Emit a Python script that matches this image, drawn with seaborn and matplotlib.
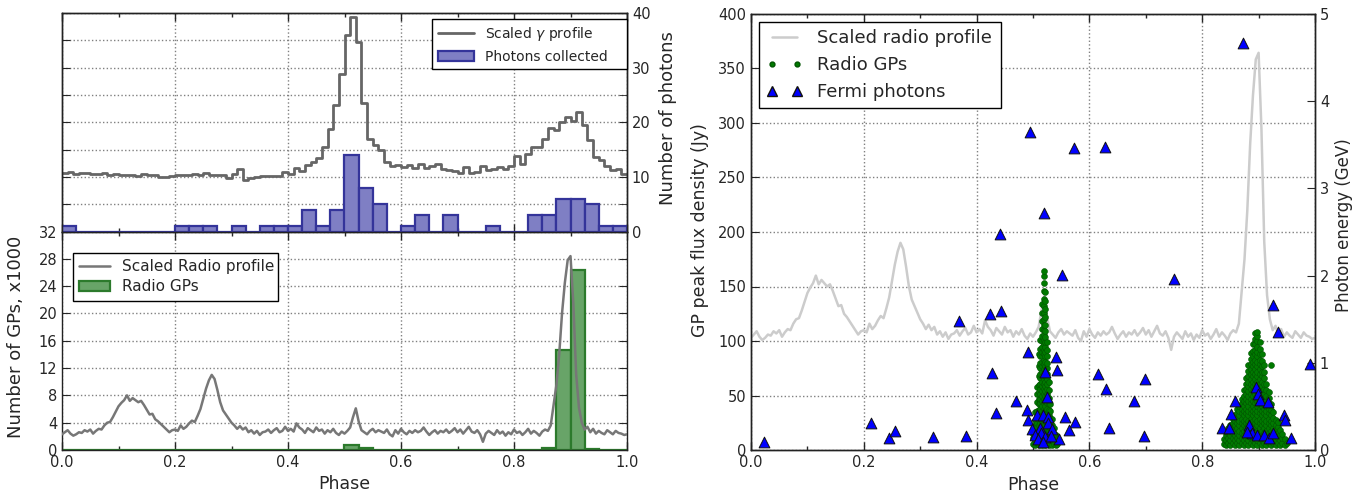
import numpy as np
import pandas as pd
import matplotlib
matplotlib.use("Agg")
import matplotlib.pyplot as plt
import seaborn as sns
from matplotlib.lines import Line2D
from matplotlib.patches import Patch
from matplotlib.ticker import MultipleLocator

# ---------------- data ----------------
# Scaled gamma-ray light curve, 100 phase bins of 0.01 (units of right axis)
gamma_profile = [
    10.8, 10.9, 10.5, 10.8, 10.7, 10.6, 10.5, 10.8, 10.4, 10.6,
    10.4, 10.3, 10.4, 10.2, 10.6, 10.3, 10.3, 10.0, 9.9, 10.2,
    10.3, 10.4, 10.3, 10.6, 10.4, 10.8, 10.4, 10.3, 10.4, 9.8,
    10.6, 11.5, 9.4, 9.8, 10.0, 10.1, 10.2, 10.2, 10.2, 10.9,
    10.6, 11.6, 11.0, 12.2, 12.7, 13.5, 15.4, 18.8, 23.1, 28.8,
    36.0, 39.3, 34.7, 23.5, 17.0, 15.8, 14.9, 12.8, 11.9, 12.1,
    11.8, 12.2, 11.7, 12.3, 11.6, 12.0, 12.4, 11.5, 11.2, 11.0,
    10.7, 11.8, 10.8, 10.9, 11.9, 11.2, 11.4, 11.8, 11.5, 12.0,
    13.9, 12.4, 14.2, 15.4, 15.4, 17.0, 18.9, 18.5, 20.0, 21.0,
    20.2, 21.9, 19.5, 16.7, 13.7, 13.0, 12.0, 11.2, 11.4, 10.6,
]

# Photons collected, 40 phase bins of 0.025
photon_counts = [1, 0, 0, 0, 0, 0, 0, 0, 1, 1,
                 1, 0, 1, 0, 1, 1, 1, 4, 1, 4,
                 14, 8, 5, 0, 1, 3, 0, 3, 0, 0,
                 1, 0, 0, 3, 3, 6, 6, 5, 1, 1]

# Radio giant pulses (x1000), 40 phase bins of 0.025
gp_counts_k = [0, 0, 0, 0, 0, 0, 0, 0, 0, 0,
               0, 0, 0, 0, 0, 0, 0, 0, 0, 0,
               0.75, 0.3, 0, 0, 0, 0, 0, 0, 0, 0,
               0, 0, 0, 0, 0.3, 14.6, 26.4, 0.12, 0, 0]

# Scaled radio profile, sampled every 0.005 in phase (0 .. 1)
radio_profile = [
    2.3, 2.6, 2.9, 2.4, 2.1, 2.3, 2.6, 2.5, 2.9, 2.7,
    3.0, 2.4, 2.8, 3.1, 3.0, 3.6, 4.0, 4.1, 4.8, 5.6,
    6.4, 6.9, 7.3, 8.0, 7.2, 7.6, 7.3, 7.0, 7.2, 6.6,
    5.9, 5.2, 5.3, 4.5, 4.2, 3.8, 3.4, 3.0, 2.6, 2.9,
    3.0, 2.8, 3.6, 3.1, 3.4, 3.9, 4.3, 4.1, 5.0, 6.0,
    7.5, 9.0, 10.2, 11.0, 10.4, 8.8, 7.0, 5.8, 5.2, 4.6,
    4.0, 3.6, 3.1, 3.5, 3.0, 3.3, 2.6, 2.9, 2.4, 2.8,
    2.2, 2.6, 2.7, 3.0, 2.5, 2.9, 3.2, 2.6, 2.8, 3.4,
    2.8, 3.1, 2.7, 3.9, 3.3, 3.0, 2.5, 3.2, 2.9, 2.6,
    3.3, 2.8, 3.0, 2.4, 2.9, 2.6, 3.1, 2.5, 2.2, 2.7,
    2.4, 2.8, 3.3, 4.8, 6.1, 4.2, 2.9, 2.6, 2.3, 2.8,
    3.1, 2.6, 2.9, 2.7, 2.5, 3.0, 2.3, 2.0, 2.9, 2.4,
    3.1, 2.6, 2.3, 2.8, 2.5, 2.9, 2.6, 2.8, 3.3, 2.7,
    2.2, 2.6, 2.9, 2.4, 2.8, 2.6, 3.0, 2.5, 2.8, 3.2,
    2.6, 3.0, 2.4, 2.9, 3.4, 2.7, 2.5, 2.9, 2.3, 1.2,
    2.4, 2.8, 2.5, 2.2, 2.9, 2.4, 2.7, 2.1, 2.6, 2.3,
    3.0, 2.5, 2.7, 2.2, 2.6, 3.1, 2.4, 2.8, 2.5, 2.1,
    2.7, 3.0, 2.8, 3.6, 6.5, 9.5, 14.0, 20.0, 24.5, 27.8,
    28.4, 21.5, 11.1, 6.2, 4.0, 3.0, 3.4, 2.6, 3.1, 2.4,
    2.8, 2.5, 2.3, 2.9, 2.6, 2.3, 2.8, 2.5, 2.4, 2.2,
    2.3,
]

# Fermi photons: phase and energy (GeV)
fermi_phase = [0.023, 0.212, 0.245, 0.256, 0.322, 0.381, 0.369, 0.424, 0.443, 0.442,
               0.428, 0.434, 0.492, 0.470, 0.490, 0.492,
               0.494, 0.573, 0.627, 0.872,
               0.520, 0.551, 0.750, 0.926, 0.935, 0.991,
               0.540, 0.543, 0.522, 0.615, 0.629, 0.699, 0.679, 0.634, 0.697,
               0.525, 0.557, 0.574, 0.564, 0.546,
               0.507, 0.518, 0.526, 0.498, 0.512, 0.527, 0.504, 0.515, 0.533,
               0.509, 0.522, 0.532, 0.518,
               0.858, 0.851, 0.835, 0.848, 0.895, 0.899, 0.903, 0.917, 0.883,
               0.888, 0.898, 0.910, 0.918, 0.926, 0.945, 0.947, 0.957, 0.879]
fermi_energy = [0.10, 0.31, 0.14, 0.22, 0.15, 0.16, 1.48, 1.56, 1.59, 2.48,
                0.88, 0.43, 1.12, 0.56, 0.46, 0.35,
                3.64, 3.46, 3.47, 4.66,
                2.72, 2.01, 1.96, 1.66, 1.35, 0.99,
                1.07, 0.92, 0.90, 0.87, 0.70, 0.82, 0.56, 0.26, 0.16,
                0.61, 0.38, 0.32, 0.23, 0.13,
                0.40, 0.40, 0.38, 0.24, 0.26, 0.31, 0.175, 0.20, 0.24,
                0.13, 0.15, 0.16, 0.10,
                0.57, 0.41, 0.25, 0.26, 0.72, 0.64, 0.58, 0.55, 0.29,
                0.20, 0.175, 0.175, 0.14, 0.20, 0.40, 0.35, 0.14, 0.21]

# Radio GPs: peak flux density (Jy), listed column by column in phase
gp_col_phase = [0.500, 0.504, 0.507, 0.510, 0.513, 0.516, 0.519, 0.522, 0.525,
                0.528, 0.531, 0.534, 0.537, 0.540, 0.543,
                0.838, 0.842, 0.846, 0.850, 0.854, 0.858, 0.862, 0.866, 0.870,
                0.874, 0.878, 0.882, 0.886, 0.890, 0.894, 0.898, 0.902, 0.906,
                0.910, 0.914, 0.918, 0.922, 0.926, 0.930, 0.934, 0.938, 0.942,
                0.946, 0.950]
gp_col_flux = [
    [6, 11, 15],
    [5, 9, 14, 18, 23, 28, 35],
    [7, 12, 16, 21, 25, 30, 36, 44, 52, 58],
    [5, 10, 14, 19, 23, 28, 32, 37, 42, 47, 53, 60, 68, 77, 88],
    [7, 11, 16, 20, 25, 29, 34, 38, 43, 47, 52, 56, 61, 66, 70, 75, 80, 86, 93, 101],
    [5, 9, 14, 18, 23, 27, 32, 36, 41, 45, 50, 54, 59, 63, 68, 72, 77, 81, 86, 90,
     95, 100, 105, 111, 118, 126, 134],
    [7, 11, 16, 20, 25, 29, 34, 38, 43, 47, 52, 56, 61, 65, 70, 74, 79, 83, 88, 92,
     97, 101, 106, 110, 115, 120, 126, 132, 139, 146, 153, 160, 164],
    [5, 9, 14, 18, 23, 27, 32, 36, 41, 45, 50, 54, 59, 63, 68, 72, 77, 81, 86, 90,
     95, 99, 104, 109, 115, 122, 129, 137, 145],
    [7, 11, 16, 20, 25, 29, 34, 38, 43, 47, 52, 56, 61, 65, 70, 75, 80, 86, 92, 99],
    [5, 9, 14, 18, 23, 27, 32, 37, 42, 48, 55, 63],
    [7, 11, 16, 20, 25, 30, 36, 42],
    [5, 9, 14, 18, 23, 29],
    [6, 11, 15, 20],
    [5, 9, 14],
    [6, 10],
    [6, 10],
    [5, 9, 14],
    [7, 11, 16, 20],
    [5, 9, 14, 18, 23],
    [7, 11, 16, 20, 25, 29],
    [5, 9, 14, 18, 23, 27, 32],
    [7, 11, 16, 20, 25, 29, 34, 38],
    [5, 9, 14, 18, 23, 27, 32, 36, 41],
    [7, 11, 16, 20, 25, 29, 34, 38, 43, 47],
    [5, 9, 14, 18, 23, 27, 32, 36, 41, 45, 50, 55],
    [7, 11, 16, 20, 25, 29, 34, 38, 43, 47, 52, 56, 61, 66],
    [5, 9, 14, 18, 23, 27, 32, 36, 41, 45, 50, 54, 59, 63, 68, 73, 78],
    [7, 11, 16, 20, 25, 29, 34, 38, 43, 47, 52, 56, 61, 65, 70, 74, 79, 84, 89],
    [5, 9, 14, 18, 23, 27, 32, 36, 41, 45, 50, 54, 59, 63, 68, 72, 77, 81, 86, 91, 97],
    [7, 11, 16, 20, 25, 29, 34, 38, 43, 47, 52, 56, 61, 65, 70, 74, 79, 83, 88, 92,
     97, 102, 107],
    [5, 9, 14, 18, 23, 27, 32, 36, 41, 45, 50, 54, 59, 63, 68, 72, 77, 81, 86, 90,
     95, 100, 105, 108],
    [7, 11, 16, 20, 25, 29, 34, 38, 43, 47, 52, 56, 61, 65, 70, 74, 79, 83, 88, 93, 99],
    [5, 9, 14, 18, 23, 27, 32, 36, 41, 45, 50, 54, 59, 63, 68, 72, 77, 82, 88],
    [7, 11, 16, 20, 25, 29, 34, 38, 43, 47, 52, 56, 61, 66, 72, 78],
    [5, 9, 14, 18, 23, 27, 32, 36, 41, 45, 50, 55, 61],
    [7, 11, 16, 20, 25, 29, 34, 38, 43, 48, 53],
    [5, 9, 14, 18, 23, 27, 32, 37, 42, 78],
    [7, 11, 16, 20, 25, 30, 35],
    [5, 9, 14, 18, 23, 28],
    [7, 11, 16, 21, 26],
    [5, 9, 14, 19],
    [7, 11, 15],
    [5, 10],
    [7],
]

phase_ticks = [0.0, 0.2, 0.4, 0.6, 0.8, 1.0]

# ---------------- derived tables ----------------
N_HIST = len(photon_counts)
gamma_edges = np.linspace(0.0, 1.0, len(gamma_profile) + 1)
gamma_df = pd.DataFrame({"phase": gamma_edges,
                         "value": gamma_profile + [gamma_profile[-1]]})
hist_edges = np.linspace(0.0, 1.0, N_HIST + 1)
hist_centers = 0.5 * (hist_edges[:-1] + hist_edges[1:])
photon_df = pd.DataFrame({"phase": hist_centers, "count": photon_counts})
gphist_df = pd.DataFrame({"phase": hist_centers, "count": gp_counts_k})
radio_phase = np.linspace(0.0, 1.0, len(radio_profile))
RADIO_SCALE, RADIO_OFFSET = 10.0, 80.0   # radio profile scaling in right panel
radio_df = pd.DataFrame({"phase": radio_phase, "value": radio_profile,
                         "scaled": np.array(radio_profile) * RADIO_SCALE + RADIO_OFFSET})
gp_df = pd.DataFrame({
    "phase": [p for p, fl in zip(gp_col_phase, gp_col_flux) for _ in fl],
    "flux": [f for fl in gp_col_flux for f in fl],
})
fermi_df = pd.DataFrame({"phase": fermi_phase, "energy": fermi_energy})

# ---------------- style ----------------
sns.set_style("white")
plt.rcParams["font.family"] = ["DejaVu Sans"]
plt.rcParams["mathtext.fontset"] = "dejavusans"
plt.rcParams["axes.linewidth"] = 1.0
plt.rcParams["axes.edgecolor"] = "#222222"

TICK_FS = 10.5
PH_FACE, PH_EDGE = "#7f7fc4", "#34349a"
GP_FACE, GP_EDGE = "#68a468", "#2c7a2c"
DOT_C, DOT_E = "#007a00", "#005400"
GRID = dict(ls=":", color="#808080", lw=1.0)
LEG = dict(fancybox=False, edgecolor="black", framealpha=1, borderaxespad=0,
           loc="upper left", mode="expand")

W, H = 1359, 491
fig = plt.figure(figsize=(W / 100, H / 100), dpi=100)
ax_t = fig.add_axes([62 / W, (H - 231.5) / H, 565 / W, 218.5 / H])
ax_b = fig.add_axes([62 / W, (H - 450) / H, 565 / W, 218.5 / H])
ax_r = fig.add_axes([751 / W, (H - 450.3) / H, 564 / W, 436.8 / H])


def style_x(ax, labels=True):
    ax.set_xlim(0, 1)
    ax.set_xticks(phase_ticks)
    ax.xaxis.set_minor_locator(MultipleLocator(0.1))
    ax.tick_params(axis="x", which="both", direction="in", top=True, bottom=True,
                   labelbottom=labels, labelsize=TICK_FS)
    ax.tick_params(axis="x", which="major", length=6, width=1)
    ax.tick_params(axis="x", which="minor", length=3, width=1)
    if labels:
        ax.set_xticklabels([f"{t:.1f}" for t in phase_ticks])


# ---- top-left: gamma profile and photons ----
sns.lineplot(data=gamma_df, x="phase", y="value", ax=ax_t, drawstyle="steps-post",
             color="#666666", linewidth=2.0, estimator=None, errorbar=None)
ax_t2 = ax_t.twinx()
sns.histplot(data=photon_df, x="phase", weights="count", bins=N_HIST, binrange=(0, 1),
             ax=ax_t2, color=PH_FACE, edgecolor=PH_EDGE, linewidth=1.6, alpha=1.0)
ax_t.set_ylim(0, 40)
ax_t2.set_ylim(0, 40)
ax_t.yaxis.set_major_locator(MultipleLocator(5))
ax_t.tick_params(axis="y", direction="in", length=6, labelleft=False, left=True, right=False)
ax_t2.yaxis.set_major_locator(MultipleLocator(10))
ax_t2.yaxis.set_minor_locator(MultipleLocator(5))
ax_t2.tick_params(axis="y", which="both", direction="in", labelsize=TICK_FS, right=True)
ax_t2.tick_params(axis="y", which="major", length=6)
ax_t2.tick_params(axis="y", which="minor", length=6)
style_x(ax_t, labels=False)
ax_t.grid(True, **GRID)
ax_t.set_xlabel("")
ax_t.set_ylabel("")
ax_t2.set_xlabel("")
ax_t2.set_ylabel("Number of photons", fontsize=13)
ax_t2.yaxis.set_label_coords(1.057, 0.52)
ax_t2.legend(handles=[Line2D([], [], color="#666666", lw=2.0),
                      Patch(facecolor=PH_FACE, edgecolor=PH_EDGE, lw=1.6)],
             labels=[r"Scaled $\gamma$ profile", "Photons collected"],
             bbox_to_anchor=(0.655, 0.0, 0.345, 0.971), fontsize=10,
             handlelength=2.6, **LEG)

# ---- bottom-left: radio profile and GP histogram ----
sns.histplot(data=gphist_df, x="phase", weights="count", bins=N_HIST, binrange=(0, 1),
             ax=ax_b, color=GP_FACE, edgecolor=GP_EDGE, linewidth=1.6, alpha=1.0)
sns.lineplot(data=radio_df, x="phase", y="value", ax=ax_b, color="#777777",
             linewidth=1.8, estimator=None, errorbar=None, zorder=3)
ax_b.set_ylim(0, 32)
ax_b.yaxis.set_major_locator(MultipleLocator(4))
ax_b.tick_params(axis="y", direction="in", length=6, labelsize=TICK_FS, left=True, right=True)
style_x(ax_b)
ax_b.grid(True, **GRID)
ax_b.set_xlabel("Phase", fontsize=12.5)
ax_b.set_ylabel("Number of GPs, x1000", fontsize=13)
ax_b.yaxis.set_label_coords(-0.0655, 0.52)
ax_b.legend(handles=[Line2D([], [], color="#777777", lw=1.8),
                     Patch(facecolor=GP_FACE, edgecolor=GP_EDGE, lw=1.6)],
            labels=["Scaled Radio profile", "Radio GPs"],
            bbox_to_anchor=(0.0195, 0.0, 0.363, 0.9016), fontsize=11,
            labelspacing=0.35, **LEG)

# ---- right: GP fluxes and Fermi photon energies ----
sns.lineplot(data=radio_df, x="phase", y="scaled", ax=ax_r, color="#cccccc",
             linewidth=1.8, estimator=None, errorbar=None)
sns.scatterplot(data=gp_df, x="phase", y="flux", ax=ax_r, color=DOT_C, s=18,
                edgecolor=DOT_E, linewidth=0.4, zorder=3)
ax_r2 = ax_r.twinx()
sns.scatterplot(data=fermi_df, x="phase", y="energy", ax=ax_r2, marker="^",
                color="#0000ff", s=60, edgecolor="#111111", linewidth=0.7, zorder=4)
ax_r.set_ylim(0, 400)
ax_r2.set_ylim(0, 5)
ax_r.yaxis.set_major_locator(MultipleLocator(50))
ax_r2.yaxis.set_major_locator(MultipleLocator(1))
ax_r.tick_params(axis="y", direction="in", length=6, labelsize=TICK_FS, left=True, right=False)
ax_r2.tick_params(axis="y", direction="in", length=6, labelsize=TICK_FS, right=True)
style_x(ax_r)
ax_r.grid(True, **GRID)
ax_r.set_xlabel("Phase", fontsize=12.5)
ax_r.set_ylabel("GP peak flux density (Jy)", fontsize=12.5)
ax_r2.set_ylabel("Photon energy (GeV)", fontsize=12)
ax_r2.set_xlabel("")
ax_r.yaxis.set_label_coords(-0.0745, 0.504)
ax_r2.yaxis.set_label_coords(1.036, 0.516)
ax_r2.legend(handles=[Line2D([], [], color="#cccccc", lw=1.8),
                      Line2D([], [], color=DOT_C, marker="o", ls="none", ms=3.5,
                             markeredgecolor=DOT_E),
                      Line2D([], [], color="#0000ff", marker="^", ls="none", ms=7.5,
                             markeredgecolor="#111111")],
             labels=["Scaled radio profile", "Radio GPs", "Fermi photons"],
             numpoints=2, bbox_to_anchor=(0.014, 0.0, 0.429, 0.981),
             fontsize=13, **LEG)

fig.savefig("out.png", dpi=100)
